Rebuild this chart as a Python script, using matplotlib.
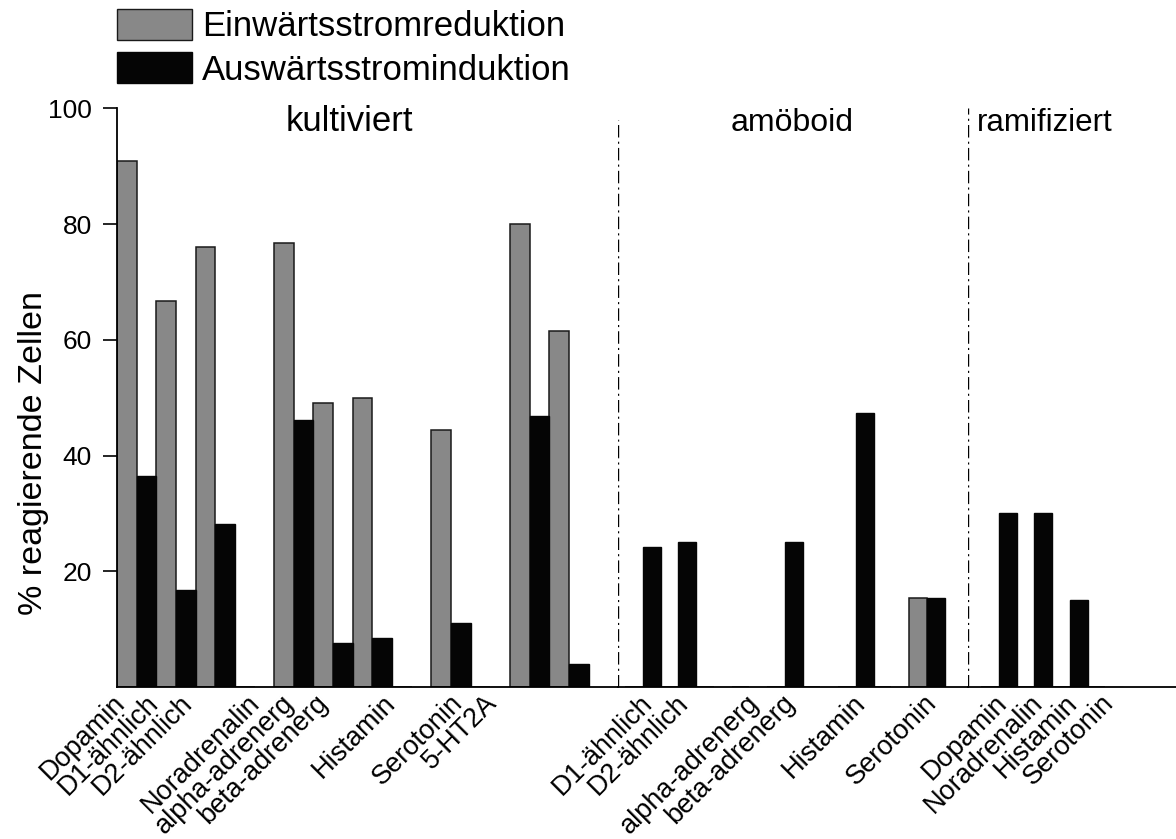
import numpy as np
import matplotlib
matplotlib.use("Agg")
import matplotlib.pyplot as plt
from matplotlib.patches import Patch

plt.rcParams['font.family'] = ['Liberation Sans', 'DejaVu Sans']

# kultiviert ('' = empty slot)
kult_names = ['Dopamin', 'D1-ähnlich', 'D2-ähnlich', '', 'Noradrenalin', 'alpha-adrenerg',
              'beta-adrenerg', '', 'Histamin', '', 'Serotonin', '5-HT2A']
kult_ein = [90.9, 66.7, 76.1, 0, 76.8, 49.1, 50.0, 0, 44.4, 0, 80.0, 61.6]
kult_aus = [36.4, 16.7, 28.1, 0, 46.2, 7.6, 8.4, 0, 11.1, 0, 46.8, 3.9]

# amöboid
amo_names = ['D1-ähnlich', 'D2-ähnlich', '', 'alpha-adrenerg', 'beta-adrenerg', '',
             'Histamin', '', 'Serotonin']
amo_ein = [0, 0, 0, 0, 0, 0, 0, 0, 15.3]
amo_aus = [24.2, 25.0, 0, 0, 25.0, 0, 47.4, 0, 15.3]

# ramifiziert
ram_names = ['Dopamin', 'Noradrenalin', 'Histamin', 'Serotonin']
ram_ein = [0, 0, 0, 0]
ram_aus = [30.0, 30.0, 15.0, 0]

GRAY = '#888888'
BLACK = '#050505'
W, H = 1176, 839

fig = plt.figure(figsize=(W / 100, H / 100), dpi=100)
bottom = 1 - 687 / H
height = (687 - 108.3) / H
ax1 = fig.add_axes([117 / W, bottom, (618 - 117) / W, height])
ax2 = fig.add_axes([618 / W, bottom, (968 - 618) / W, height])
ax3 = fig.add_axes([968 / W, bottom, (W - 968) / W, height])


def draw_panel(ax, names, ein, aus, xlim, label_step, label_off, title, title_x, title_ha, title_size):
    x = np.arange(len(names))
    ax.bar(x - 0.25, ein, width=0.5, color=GRAY, edgecolor='#1a1a1a', linewidth=1.1)
    ax.bar(x + 0.25, aus, width=0.5, color=BLACK, edgecolor=BLACK, linewidth=1.0)
    idx = [i for i, n in enumerate(names) if n]
    ax.set_xticks([i * label_step + label_off for i in idx])
    ax.set_xticklabels([names[i] for i in idx], rotation=45, ha='right', fontsize=19.5)
    ax.tick_params(axis='x', length=0, pad=2)
    ax.set_xlim(xlim)
    ax.set_ylim(0, 100)
    for s in ['top', 'right']:
        ax.spines[s].set_visible(False)
    ax.spines['bottom'].set_linewidth(1.3)
    # x in axes fraction, y in data
    ax.text(title_x, 96, title, transform=ax.get_yaxis_transform(), ha=title_ha,
            va='baseline', fontsize=title_size)


draw_panel(ax1, kult_names, kult_ein, kult_aus, (-0.5, 12.25), 0.86, -0.16,
           'kultiviert', 0.463, 'center', 25)
draw_panel(ax2, amo_names, amo_ein, amo_aus, (-0.704, 9.155), 1.0, 0.42,
           'amöboid', 0.497, 'center', 23)
draw_panel(ax3, ram_names, ram_ein, ram_aus, (-0.873, 4.99), 1.0, 0.37,
           'ramifiziert', 0.043, 'left', 22.5)

ax1.set_yticks([20, 40, 60, 80, 100])
ax1.tick_params(axis='y', length=10, width=1.2, pad=8, labelsize=19)
ax1.spines['left'].set_linewidth(1.3)
ax1.set_ylabel('% reagierende Zellen', fontsize=24.5)
ax1.yaxis.set_label_coords(-0.136, 0.405)

for ax in [ax2, ax3]:
    ax.spines['left'].set_visible(False)
    ax.set_yticks([])
ax2.axvline(ax2.get_xlim()[0], ymin=0, ymax=0.98, color='black', lw=1.0,
            ls=(0, (9, 3, 1.5, 3)))
ax3.axvline(ax3.get_xlim()[0], ymin=0, ymax=1.0, color='black', lw=1.0,
            ls=(0, (9, 3, 1.5, 3)))

handles = [Patch(facecolor=GRAY, edgecolor='#1a1a1a', label='Einwärtsstromreduktion'),
           Patch(facecolor=BLACK, edgecolor=BLACK, label='Auswärtsstrominduktion')]
fig.legend(handles=handles, loc='upper left', bbox_to_anchor=(117 / W, 1 - 9 / H),
           frameon=False, fontsize=25, handlelength=2.15, handleheight=1.0,
           handletextpad=0.3, labelspacing=0.25, borderpad=0, borderaxespad=0)

fig.savefig('out.png', dpi=100)
